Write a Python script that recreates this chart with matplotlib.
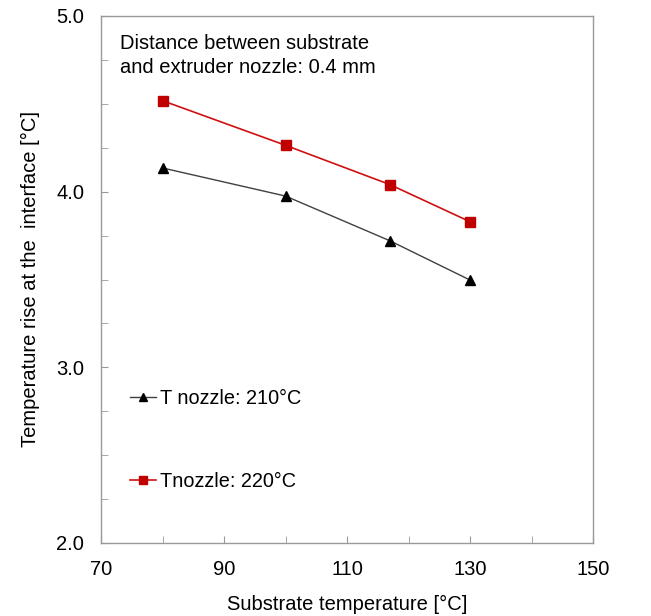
import matplotlib
matplotlib.use('Agg')
import matplotlib.pyplot as plt
from matplotlib.ticker import MultipleLocator, FixedLocator, FormatStrFormatter

plt.rcParams['font.family'] = ['Liberation Sans', 'DejaVu Sans']

# substrate temperature [°C]
substrate_temp = [80, 100, 117, 130]
# temperature rise at interface [°C]
rise_210 = [4.135, 3.975, 3.72, 3.497]
rise_220 = [4.518, 4.264, 4.04, 3.829]

x_labels = [70, 90, 110, 130, 150]

fig = plt.figure(figsize=(6.51, 6.16), dpi=100)
ax = fig.add_axes([101 / 651, 1 - 543 / 616, 492 / 651, 527 / 616])

ax.plot(substrate_temp, rise_210, color='#404040', lw=1.0, marker='^',
        ms=7, mfc='black', mec='black', label='T nozzle: 210°C')
ax.plot(substrate_temp, rise_220, color='#d01010', lw=1.2, marker='s',
        ms=7, mfc='#c00000', mec='#c00000', label='Tnozzle: 220°C')

ax.set_xlim(70, 150)
ax.set_ylim(2.0, 5.0)
ax.xaxis.set_major_locator(FixedLocator(x_labels))
ax.xaxis.set_minor_locator(MultipleLocator(10))
ax.yaxis.set_major_locator(MultipleLocator(1.0))
ax.yaxis.set_minor_locator(MultipleLocator(0.25))
ax.yaxis.set_major_formatter(FormatStrFormatter('%.1f'))

for s in ax.spines.values():
    s.set_color('#999999')
    s.set_linewidth(1.0)
ax.tick_params(which='both', direction='in', color='#999999', labelsize=14.5,
               top=False, right=False, length=5)
ax.tick_params(axis='y', pad=12)
ax.tick_params(axis='x', pad=12)

ax.set_xlabel('Substrate temperature [°C]', fontsize=14.5, labelpad=12)
ax.set_ylabel('Temperature rise at the  interface [°C]', fontsize=14.5, labelpad=12)

ax.text(0.038, 0.965, 'Distance between substrate\nand extruder nozzle: 0.4 mm',
        transform=ax.transAxes, fontsize=14.5, va='top', ha='left', linespacing=1.3)

ax.legend(loc='lower left', bbox_to_anchor=(0.023, 0.064), frameon=False,
          fontsize=14.3, handlelength=1.3, handletextpad=0.2, labelspacing=3.25,
          markerscale=0.75)

fig.savefig('out.png', dpi=100)
plt.close()
